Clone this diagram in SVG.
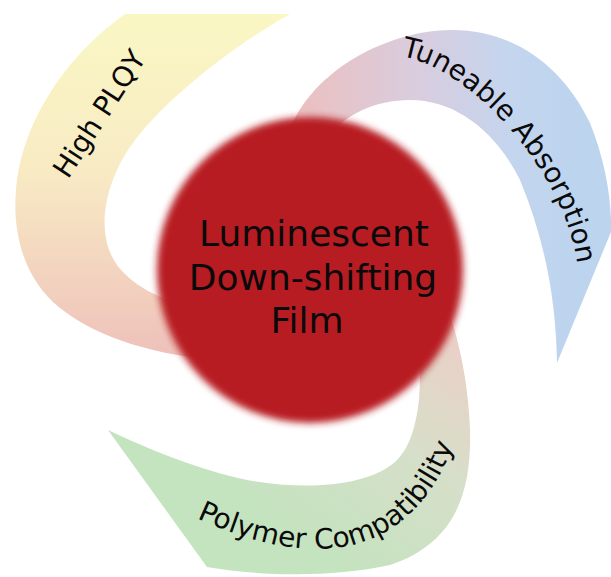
<svg xmlns="http://www.w3.org/2000/svg" width="611" height="577" viewBox="0 0 611 577">
  <defs>
    <style>
      .label { font-family: "DejaVu Sans", Verdana, sans-serif; font-size: 28px; fill: #0A0A0A; }
      .core-text { font-family: "DejaVu Sans", Verdana, sans-serif; font-size: 36px; fill: #0A0A0A; text-anchor: middle; }
    </style>
    <linearGradient id="gradYellow" gradientUnits="userSpaceOnUse" x1="0" y1="14" x2="0" y2="360">
      <stop offset="0" stop-color="#FAF7C4"/>
      <stop offset="0.45" stop-color="#F8EBC4"/>
      <stop offset="1" stop-color="#EEC0BA"/>
    </linearGradient>
    <linearGradient id="gradBlue" gradientUnits="userSpaceOnUse" x1="300" y1="0" x2="580" y2="0">
      <stop offset="0" stop-color="#EBC0C0"/>
      <stop offset="0.4" stop-color="#DACCDD"/>
      <stop offset="0.75" stop-color="#C4D5EE"/>
      <stop offset="1" stop-color="#BCD4EE"/>
    </linearGradient>
    <linearGradient id="gradGreen" gradientUnits="userSpaceOnUse" x1="455" y1="320" x2="300" y2="540">
      <stop offset="0" stop-color="#EDCEC6"/>
      <stop offset="0.5" stop-color="#D6DFC9"/>
      <stop offset="1" stop-color="#C4E3BF"/>
    </linearGradient>
    <filter id="soft" x="-10%" y="-10%" width="120%" height="120%">
      <feGaussianBlur stdDeviation="3.5"/>
    </filter>
    <path id="pathPlqy" d="M55,200 L160,38"/>
    <path id="pathAbsorption" d="M393,55 C472,62 572,182 578,272"/>
    <path id="pathPolymer" d="M190,515 C268,552 402,592 456,438"/>
  </defs>

  <rect width="611" height="577" fill="#FFFFFF"/>

  <!-- swoosh bands, drawn under the core disc -->
  <g id="band-plqy">
    <path d="M125,14 L290,14 C235,45 170,95 135,140 C105,180 95,230 115,262 C130,285 160,300 200,310 L215,360 C160,355 100,340 60,308 C25,280 12,235 16,190 C20,130 60,60 125,14 Z" fill="url(#gradYellow)"/>
  </g>
  <g id="band-absorption">
    <path d="M290,130 C300,100 340,50 420,33 C500,18 560,60 590,123 C605,160 612,200 611,232 L557,363 C556,300 545,240 520,180 C495,130 455,100 410,100 C375,100 345,115 330,135 Z" fill="url(#gradBlue)"/>
  </g>
  <g id="band-polymer">
    <path d="M415,330 C425,380 420,440 395,462 C365,488 300,490 247,480 C200,470 150,450 108,430 L207,567 C260,576 330,578 390,565 C450,545 472,500 470,430 C468,380 458,330 440,290 Z" fill="url(#gradGreen)"/>
  </g>

  <!-- central disc -->
  <g id="core">
    <circle cx="310" cy="270" r="153" fill="#B71C23" filter="url(#soft)"/>
    <text class="core-text" x="314" y="246">Luminescent</text>
    <text class="core-text" x="313" y="290">Down-shifting</text>
    <text class="core-text" x="307" y="333">Film</text>
  </g>

  <!-- band labels -->
  <g id="labels">
    <text class="label"><textPath href="#pathPlqy" startOffset="50%" text-anchor="middle">High PLQY</textPath></text>
    <text class="label"><textPath href="#pathAbsorption" startOffset="50%" text-anchor="middle">Tuneable Absorption</textPath></text>
    <text class="label"><textPath href="#pathPolymer" startOffset="50%" text-anchor="middle">Polymer Compatibility</textPath></text>
  </g>
</svg>
